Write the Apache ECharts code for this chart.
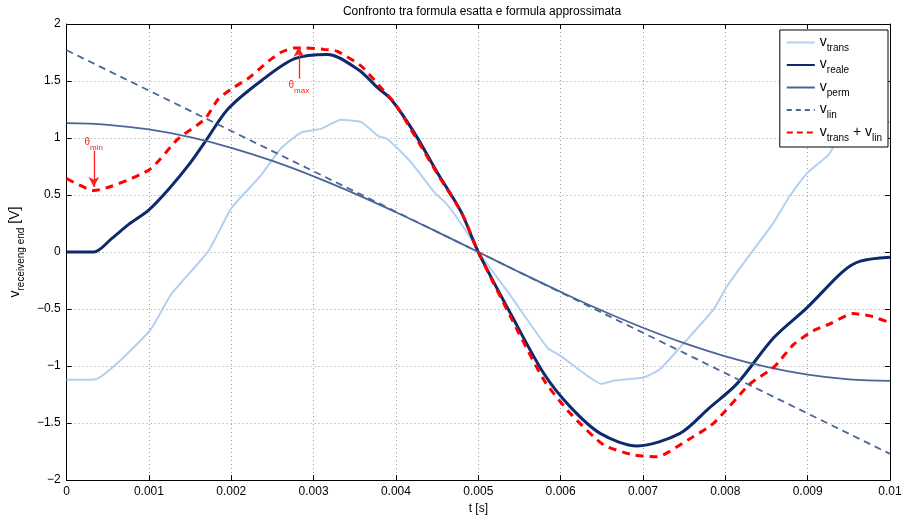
<!DOCTYPE html>
<html>
<head>
<meta charset="utf-8">
<script src="https://cdn.jsdelivr.net/npm/echarts@6/dist/echarts.min.js"></script>
<style>html,body{margin:0;padding:0;background:#fff;}#c{width:906px;height:520px;}</style>
</head>
<body>
<div id="c"></div>
<script>
// ---- data (time in s, voltage in V) ----
var tTrans = [0, 0.00034, 0.00101, 0.00127, 0.00172, 0.002, 0.00236, 0.0026, 0.00285, 0.00309, 0.00333, 0.00358, 0.00378, 0.0039, 0.00418, 0.00446, 0.00463, 0.00491, 0.005, 0.00535, 0.00584, 0.006, 0.0065, 0.00665, 0.00701, 0.00721, 0.00745, 0.00786, 0.00802, 0.0083, 0.00857, 0.00879, 0.00899, 0.00925, 0.00935, 0.0097, 0.01];
var vTrans = [-1.12, -1.118, -0.69, -0.37, 0.006, 0.383, 0.673, 0.906, 1.05, 1.08, 1.16, 1.14, 1.02, 0.99, 0.79, 0.53, 0.41, 0.12, 0, -0.34, -0.84, -0.91, -1.156, -1.126, -1.10, -1.025, -0.836, -0.50, -0.30, -0.02, 0.24, 0.50, 0.69, 0.85, 0.96, 1.07, 1.14];

var tReale = [0, 0.00033, 0.00055, 0.00075, 0.001, 0.00125, 0.0015, 0.00168, 0.00196, 0.00236, 0.00277, 0.00317, 0.00354, 0.00378, 0.00394, 0.00422, 0.0045, 0.00479, 0.005, 0.0054, 0.0058, 0.00612, 0.00648, 0.00693, 0.00745, 0.0078, 0.00814, 0.00859, 0.00899, 0.00943, 0.00964, 0.01];
var vReale = [0, 0, 0.12, 0.24, 0.37, 0.56, 0.78, 0.964, 1.254, 1.50, 1.696, 1.733, 1.60, 1.44, 1.34, 1.05, 0.70, 0.354, 0, -0.55, -1.07, -1.36, -1.59, -1.70, -1.59, -1.37, -1.156, -0.75, -0.49, -0.17, -0.08, -0.046];

var tPerm = [0, 0.0005, 0.001, 0.0015, 0.002, 0.0025, 0.003, 0.0035, 0.004, 0.0045, 0.005, 0.0055, 0.006, 0.0065, 0.007, 0.0075, 0.008, 0.0085, 0.009, 0.0095, 0.01];
var vPerm = [1.13, 1.116, 1.075, 1.007, 0.914, 0.799, 0.664, 0.513, 0.349, 0.177, 0, -0.177, -0.349, -0.513, -0.664, -0.799, -0.914, -1.007, -1.075, -1.116, -1.13];

var tLin = [0, 0.01];
var vLin = [1.77, -1.77];

var tSum = [0, 0.00033, 0.001, 0.00135, 0.00168, 0.00184, 0.002, 0.0022, 0.00236, 0.00248, 0.0026, 0.00277, 0.00289, 0.00313, 0.00329, 0.00358, 0.0038, 0.004, 0.0045, 0.0048, 0.005, 0.0054, 0.0058, 0.00612, 0.00652, 0.00689, 0.00717, 0.00754, 0.00786, 0.0083, 0.00859, 0.00883, 0.00907, 0.00927, 0.00955, 0.00976, 0.01];
var vSum = [0.645, 0.54, 0.72, 0.99, 1.167, 1.34, 1.43, 1.52, 1.617, 1.69, 1.75, 1.79, 1.79, 1.777, 1.76, 1.63, 1.457, 1.29, 0.69, 0.34, 0, -0.58, -1.126, -1.417, -1.69, -1.78, -1.795, -1.65, -1.50, -1.156, -1.01, -0.81, -0.69, -0.63, -0.54, -0.56, -0.62];

var yTicks = ['−2', '−1.5', '−1', '−0.5', '0', '0.5', '1', '1.5', '2'];

var seriesNames = ['vtrans', 'vreale', 'vperm', 'vlin', 'vtrans+vlin'];
var legendLabels = {
  'vtrans': '{v|v}{s|trans}',
  'vreale': '{v|v}{s|reale}',
  'vperm': '{v|v}{s|perm}',
  'vlin': '{v|v}{s|lin}',
  'vtrans+vlin': '{v|v}{s|trans}{v| + v}{s|lin}'
};

function pairs(t, v) { return t.map(function (x, i) { return [x, v[i]]; }); }

var FONT = 'Liberation Sans';

var chart = echarts.init(document.getElementById('c'), null, { renderer: 'canvas' });

function xLab(val) { return (+val.toFixed(4)).toString(); }
function yLab(val) {
  var i = Math.round((val + 2) / 0.5);
  return yTicks[i] !== undefined ? yTicks[i] : String(val);
}

var subRich = {
  v: { fontSize: 14, lineHeight: 15, verticalAlign: 'top', fontFamily: FONT, color: '#000' },
  s: { fontSize: 10, lineHeight: 10, padding: [8, 0, 0, 0], verticalAlign: 'top', fontFamily: FONT, color: '#000' }
};

var axisLineBox = { show: true, onZero: false, lineStyle: { color: '#000', width: 1 } };
var tickIn = { inside: true, length: 5, lineStyle: { color: '#000' } };
var gridDots = { show: true, lineStyle: { color: '#9a9a9a', type: [1, 3], width: 1 } };

var thetaRich = {
  a: { fontSize: 10, color: '#ff2020', lineHeight: 11, verticalAlign: 'top', fontFamily: FONT },
  b: { fontSize: 8, color: '#ff2020', lineHeight: 8, padding: [6, 0, 0, 0], verticalAlign: 'top', fontFamily: FONT }
};

var option = {
  animation: false,
  backgroundColor: '#fff',
  title: {
    text: 'Confronto tra formula esatta e formula approssimata',
    left: 477, top: 1, textAlign: 'center',
    textStyle: { fontFamily: FONT, fontSize: 12, fontWeight: 'normal', color: '#000' }
  },
  grid: { left: 65, top: 24, right: 16, bottom: 36, containLabel: false },
  legend: {
    orient: 'vertical',
    right: 18, top: 30,
    padding: [5, 6, 4, 6],
    itemGap: 4.5,
    itemWidth: 28, itemHeight: 14,
    backgroundColor: '#fff',
    borderColor: '#000', borderWidth: 1,
    itemStyle: { opacity: 0 },
    data: [
      { name: 'vtrans' },
      { name: 'vreale' },
      { name: 'vperm' },
      { name: 'vlin', lineStyle: { type: [5, 4] } },
      { name: 'vtrans+vlin', lineStyle: { type: [6, 4] } }
    ],
    formatter: function (n) { return legendLabels[n]; },
    textStyle: { rich: subRich, fontFamily: FONT },
    selectedMode: false
  },
  xAxis: [{
    type: 'value', position: 'bottom', min: 0, max: 0.01, interval: 0.001,
    name: 't [s]', nameLocation: 'middle', nameGap: 21,
    nameTextStyle: { fontFamily: FONT, fontSize: 12, color: '#000' },
    axisLine: axisLineBox, axisTick: tickIn,
    axisLabel: { formatter: xLab, fontFamily: FONT, fontSize: 12, color: '#000', margin: 6 },
    splitLine: gridDots
  }, {
    type: 'value', position: 'top', min: 0, max: 0.01, interval: 0.001,
    axisLine: axisLineBox, axisTick: tickIn,
    axisLabel: { show: false }, splitLine: { show: false }
  }],
  yAxis: [{
    type: 'value', position: 'left', min: -2, max: 2, interval: 0.5,
    name: '{v|v}{s|receiveng end}{v| [V]}',
    nameLocation: 'middle', nameGap: 33, nameRotate: 90,
    nameTextStyle: {
      rich: {
        v: { fontSize: 14, lineHeight: 15, verticalAlign: 'top', fontFamily: FONT, color: '#000' },
        s: { fontSize: 10, lineHeight: 10, padding: [8, 0, 0, 0], verticalAlign: 'top', fontFamily: FONT, color: '#000' }
      }
    },
    axisLine: axisLineBox, axisTick: tickIn,
    axisLabel: { formatter: yLab, fontFamily: FONT, fontSize: 12, color: '#000', margin: 6 },
    splitLine: gridDots
  }, {
    type: 'value', position: 'right', min: -2, max: 2, interval: 0.5,
    axisLine: axisLineBox, axisTick: tickIn,
    axisLabel: { show: false }, splitLine: { show: false }
  }],
  series: [{
    name: 'vtrans', type: 'line', data: pairs(tTrans, vTrans), symbol: 'none', smooth: 0.15,
    lineStyle: { color: '#b4d0f0', width: 2 }, itemStyle: { color: '#b4d0f0' }, silent: true, z: 2
  }, {
    name: 'vreale', type: 'line', data: pairs(tReale, vReale), symbol: 'none', smooth: 0.3,
    lineStyle: { color: '#0c2a6c', width: 3 }, itemStyle: { color: '#0c2a6c' }, silent: true, z: 3
  }, {
    name: 'vperm', type: 'line', data: pairs(tPerm, vPerm), symbol: 'none', smooth: 0.4,
    lineStyle: { color: '#4a6699', width: 1.8 }, itemStyle: { color: '#4a6699' }, silent: true, z: 3
  }, {
    name: 'vlin', type: 'line', data: pairs(tLin, vLin), symbol: 'none',
    lineStyle: { color: '#4a6699', width: 1.8, type: [7, 5] }, itemStyle: { color: '#4a6699' }, silent: true, z: 3
  }, {
    name: 'vtrans+vlin', type: 'line', data: pairs(tSum, vSum), symbol: 'none', smooth: 0.2,
    lineStyle: { color: '#ff0000', width: 3, type: [8, 6] }, itemStyle: { color: '#ff0000' }, silent: true, z: 4,
    markLine: {
      silent: true, animation: false, symbolSize: [8, 10],
      lineStyle: { color: '#ff2020', width: 1.3, type: 'solid' },
      data: [
        [{ coord: [0.00033, 0.89], symbol: 'none',
           label: { show: true, position: 'start', distance: 2, formatter: '{a|θ}{b|min}', rich: thetaRich } },
         { coord: [0.00033, 0.57], symbol: 'arrow' }],
        [{ coord: [0.00282, 1.52], symbol: 'none',
           label: { show: true, position: 'start', distance: 2, formatter: '{a|θ}{b|max}', rich: thetaRich } },
         { coord: [0.00282, 1.80], symbol: 'arrow' }]
      ]
    }
  }]
};
chart.setOption(option);
</script>
</body>
</html>
